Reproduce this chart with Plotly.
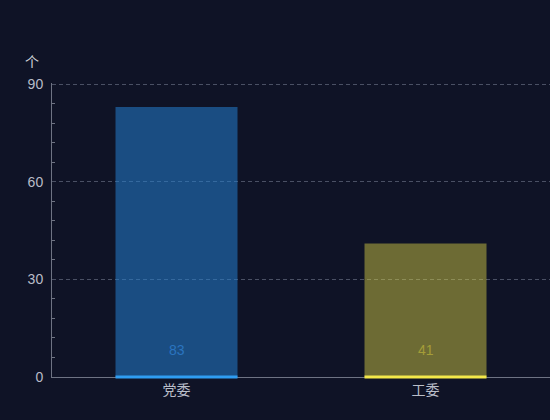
import plotly.graph_objects as go

# Committee counts
categories = ["党委", "工委"]
counts = [83, 41]
fill_colors = ["rgba(36,125,205,0.55)", "rgba(225,215,70,0.45)"]
edge_colors = ["#2f9df2", "#f3e84a"]
label_colors = ["#2a74bf", "#a49d38"]

bar_width = 0.49
bg = "#0f1326"
axis_color = "#6e7383"
tick_color = "#b9bdc8"
font_family = "Liberation Sans, Arial, Noto Sans CJK SC, sans-serif"
cjk_family = "Noto Sans CJK SC, sans-serif"

fig = go.Figure()
fig.add_trace(go.Bar(
    x=categories,
    y=counts,
    width=bar_width,
    marker=dict(color=fill_colors, line=dict(width=0)),
    hoverinfo="x+y",
))

# Bright strip along the bottom of each bar
for i, c in enumerate(edge_colors):
    fig.add_shape(
        type="line", xref="x", yref="paper",
        x0=i - bar_width / 2, x1=i + bar_width / 2, y0=0, y1=0,
        line=dict(color=c, width=3), layer="above",
    )

# Value labels near the base of each bar
for cat, v, lc in zip(categories, counts, label_colors):
    fig.add_annotation(
        x=cat, y=0, yref="y", text=str(v), showarrow=False,
        yanchor="middle", yshift=27,
        font=dict(color=lc, size=14, family=font_family),
    )

# Unit label
fig.add_annotation(
    xref="paper", yref="paper", x=-0.04, y=1.0, yshift=22,
    text="个", showarrow=False, xanchor="center", yanchor="middle",
    font=dict(color="#d0d3da", size=14, family=cjk_family),
)

fig.update_layout(
    width=550, height=420,
    margin=dict(l=52, r=0, t=83, b=43),
    paper_bgcolor=bg, plot_bgcolor=bg,
    showlegend=False,
    font=dict(family=font_family, color=tick_color, size=14),
)
fig.update_xaxes(
    showgrid=False, showline=True, linecolor=axis_color, linewidth=1,
    ticks="", tickfont=dict(color=tick_color, size=14, family=cjk_family),
    zeroline=False, range=[-0.5, 1.5],
)
fig.update_yaxes(
    range=[0, 90.35], dtick=30, tick0=0,
    showgrid=True, gridcolor="#4a5064", griddash="4px,3px", gridwidth=1,
    showline=True, linecolor=axis_color, linewidth=1,
    ticks="", zeroline=False, ticklabelstandoff=5,
    tickfont=dict(color=tick_color, size=14),
    minor=dict(dtick=6, ticks="inside", ticklen=3, tickcolor=axis_color, showgrid=False),
)

fig.write_html("out.html")
